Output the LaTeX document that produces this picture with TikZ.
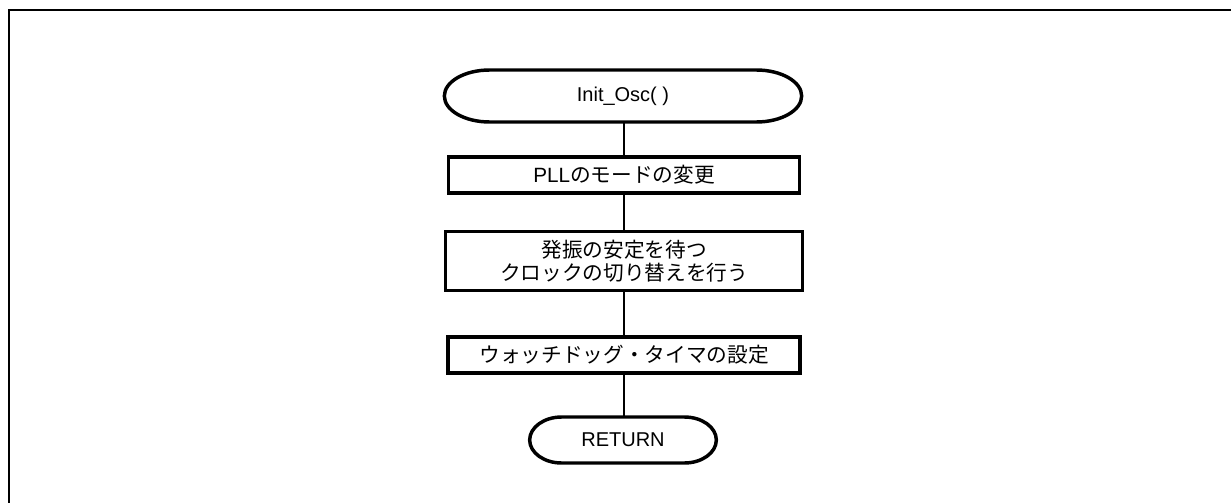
\documentclass[tikz,border=0pt]{standalone}
\usepackage{fontspec}
\setmainfont{Liberation Sans}
\newfontfamily\jpfont{Noto Sans CJK JP}
\usepackage{xcolor}
\usepackage{tikz}
\definecolor{flowblack}{RGB}{0,0,0}

\tikzset{
  termnode/.style={rectangle, inner sep=0pt, outer sep=0pt, font=\fontsize{15}{18}\selectfont},
  termline/.style={line width=2.6pt, color=flowblack},
  procnode/.style={rectangle, draw=flowblack, line width=2.6pt, inner sep=0pt, align=center, font=\fontsize{15.5}{17.25}\selectfont},
  flowline/.style={line width=1.6pt, color=flowblack}
}

\begin{document}
\begin{tikzpicture}[x=0.75pt, y=-0.75pt]
\useasboundingbox (0,0) rectangle (1231,503);
\draw[line width=2pt, color=flowblack] (9,503) -- (9,10) -- (1231,10);
\node[termnode, minimum width=268pt, minimum height=39pt] (osc) at (623,96) {Init\_Osc( )};
\draw[termline] ([xshift=34pt]osc.north west) -- ([xshift=-34pt]osc.north east)
  arc[start angle=90, end angle=-90, x radius=34pt, y radius=19.5pt]
  -- ([xshift=34pt]osc.south west)
  arc[start angle=270, end angle=90, x radius=34pt, y radius=19.5pt] -- cycle;
\node[procnode, minimum width=263pt, minimum height=27pt] (pll) at (624,175) {PLL{\jpfont のモードの変更}};
\node[procnode, minimum width=268pt, minimum height=44pt] (clk) at (624,261) {{\jpfont 発振の安定を待つ}\\{\jpfont クロックの切り替えを行う}};
\node[procnode, minimum width=264pt, minimum height=27pt] (wdt) at (624,355) {{\jpfont ウォッチドッグ・タイマの設定}};
\node[termnode, minimum width=140pt, minimum height=34.5pt] (ret) at (623,440) {RETURN};
\draw[termline] ([xshift=24pt]ret.north west) -- ([xshift=-24pt]ret.north east)
  arc[start angle=90, end angle=-90, x radius=24pt, y radius=17.25pt]
  -- ([xshift=24pt]ret.south west)
  arc[start angle=270, end angle=90, x radius=24pt, y radius=17.25pt] -- cycle;
\draw[flowline] (osc.south -| pll.north) -- (pll);
\draw[flowline] (pll) -- (clk);
\draw[flowline] (clk) -- (wdt);
\draw[flowline] (wdt) -- (ret.north -| wdt.south);
\end{tikzpicture}
\end{document}
